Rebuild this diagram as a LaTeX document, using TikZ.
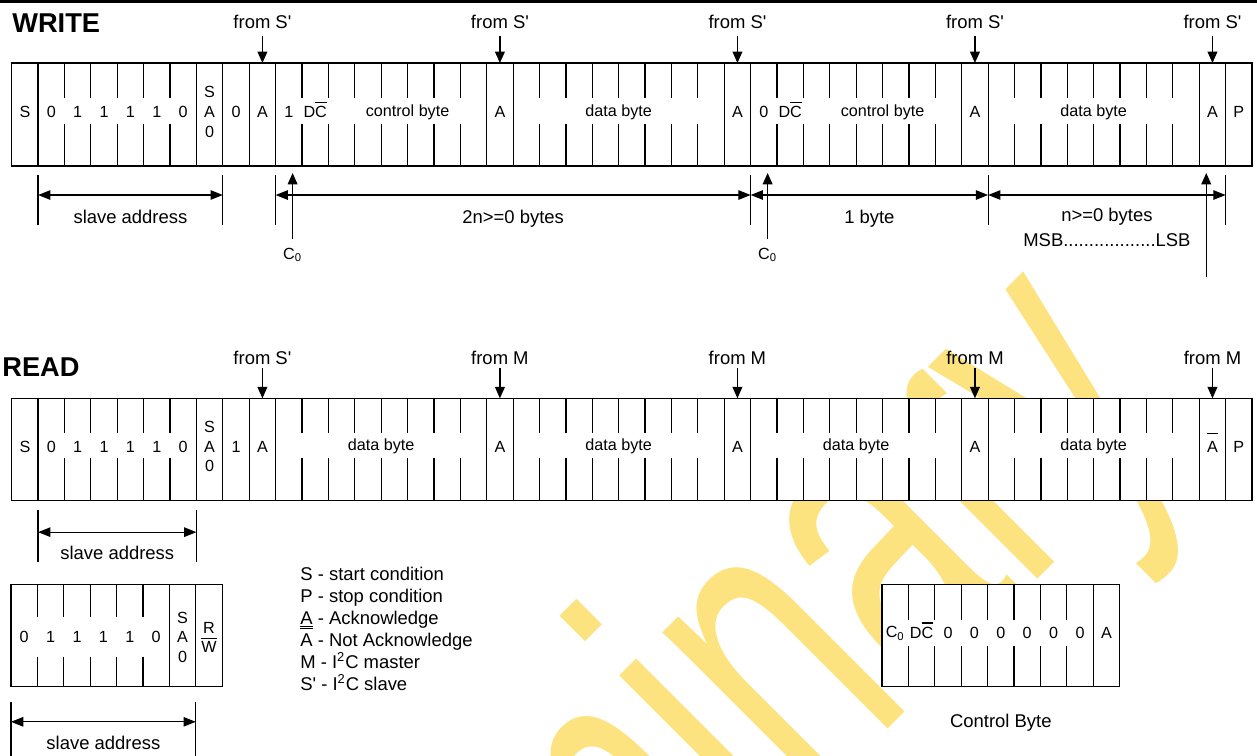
\documentclass[tikz,border=0pt]{standalone}
\usepackage{fontspec}
\setmainfont{Liberation Sans}
\usepackage{tikz}
\usetikzlibrary{arrows.meta, positioning, calc}
\definecolor{MarkYellow}{RGB}{253,226,128}
\newsavebox{\ovlbox}
\newcommand{\ovl}[2][1.8pt]{\sbox{\ovlbox}{#2}\smash{\rlap{\raisebox{\dimexpr\ht\ovlbox+#1\relax}{\rule{\wd\ovlbox}{0.6pt}}}}\usebox{\ovlbox}}
\newcommand{\sq}{\textquotesingle}
\newcommand{\czero}{C\textsubscript{0}}

\begin{document}
\begin{tikzpicture}[x=0.02cm, y=-0.02cm,
        bit/.style={font=\fontsize{9.2}{11.2}\selectfont, inner sep=0pt, align=center},
        lbl/.style={font=\fontsize{10.5}{12}\selectfont, inner sep=0pt},
        heading/.style={font=\fontsize{15.5}{18}\selectfont\bfseries, inner sep=0pt, anchor=west},
        fromw/.style={lbl, inner ysep=3.8pt, anchor=south},
        fromr/.style={lbl, inner ysep=1.9pt, anchor=south},
        czl/.style={bit, inner ysep=5pt},
        frame/.style={draw, line width=0.7pt, fill=white},
        sep/.style={line width=0.7pt},
        arr/.style={-{Triangle[length=6.5pt,width=5.6pt]}, line width=0.7pt},
        dim/.style={{Triangle[length=7pt,width=5.4pt]}-{Triangle[length=7pt,width=5.4pt]}, line width=0.7pt}
    ]
    \def\cw{26.39}
    \useasboundingbox (0,0) rectangle (1257,755);
    \fill[white] (0,0) rectangle (1257,755);
    \fill[black] (0,0) rectangle (1257,3.3);
    \node[anchor=base west, rotate=45, yscale=1.58, inner sep=0pt, text=MarkYellow,
          font=\fontsize{155}{155}\selectfont] (mark) at (221.7,1395) {Preliminary};

    % write frame
    \node[heading] (write) at (12,23) {WRITE};
    \foreach \i in {0,...,47} {
        \coordinate (w\i) at ({11.7+\i*\cw},63);
        \coordinate (wm\i) at ({11.7+(\i+0.5)*\cw},63);
    }
    \draw[frame] (w0) rectangle ($(w47)+(0,103)$);
    \foreach \i in {1,7,8,9,10,18,19,27,28,36,37,45,46}
        \draw[sep] (w\i) -- ++(0,103);
    \foreach \i in {2,...,6}
        \draw[sep] (w\i) -- ++(0,35) ++(0,26) -- ++(0,42);
    \foreach \b in {10,19,28,37}
        \foreach \k in {1,...,7}
            \draw[sep] ($(w\b)+(\k*\cw,0)$) -- ++(0,35) ++(0,26) -- ++(0,42);
    \foreach \i/\t in {0/S,1/0,2/1,3/1,4/1,5/1,6/0,7/{S\\A\\0},8/0,9/A,10/1,11/D\ovl{C},
                       18/A,27/A,28/0,29/D\ovl{C},36/A,45/A,46/P}
        \node[bit] (wb\i) at ($(wm\i)+(0,49)$) {\t};
    \node[bit] (wctl1) at ($(w12)+(3*\cw,49)$) {control byte};
    \node[bit] (wdat1) at ($(w19)+(4*\cw,49)$) {data byte};
    \node[bit] (wctl2) at ($(w30)+(3*\cw,49)$) {control byte};
    \node[bit] (wdat2) at ($(w37)+(4*\cw,49)$) {data byte};
    \foreach \i in {9,18,27,36,45} {
        \node[fromw] (wf\i) at ($(wm\i)+(0,-27.5)$) {from S\sq};
        \draw[arr] (wf\i) -- (wm\i);
    }

    % write spans
    \foreach \i in {1,8,10,28,37,46}
        \draw[sep] ($(w\i)+(0,112)$) -- coordinate[pos=0.4] (wa\i) ++(0,50);
    \draw[dim] (wa1) -- node[lbl, below=8.5pt] (wsa) {slave address} (wa8);
    \draw[dim] (wa10) -- node[lbl, below=8.5pt] (wn2) {2n>=0 bytes} (wa28);
    \draw[dim] (wa28) -- node[lbl, below=8.5pt] (wone) {1 byte} (wa37);
    \draw[dim] (wa37) -- node[lbl, below=7pt] (wn1) {n>=0 bytes} (wa46);
    \node[lbl, below=4.5pt of wn1] (wmsb) {MSB..................LSB};
    \foreach \i in {10,28} {
        \coordinate (wu\i) at ($(w\i)+(17,110)$);
        \node[czl] (wc\i) at ($(w\i)+(17,192)$) {\czero};
        \draw[arr] (wc\i) -- (wu\i);
    }
    \coordinate (wu45) at ($(w45)+(7,110)$);
    \coordinate (wlsb) at ($(w45)+(7,214)$);
    \draw[arr] (wlsb) -- (wu45);

    % read frame
    \node[heading] (read) at (2,367) {READ};
    \foreach \i in {0,...,47} {
        \coordinate (r\i) at ({11.7+\i*\cw},398.3);
        \coordinate (rm\i) at ({11.7+(\i+0.5)*\cw},398.3);
    }
    \draw[frame] (r0) rectangle ($(r47)+(0,102.4)$);
    \foreach \i in {1,7,8,9,10,18,19,27,28,36,37,45,46}
        \draw[sep] (r\i) -- ++(0,102.4);
    \foreach \i in {2,...,6}
        \draw[sep] (r\i) -- ++(0,35) ++(0,25) -- ++(0,42.4);
    \foreach \b in {10,19,28,37}
        \foreach \k in {1,...,7}
            \draw[sep] ($(r\b)+(\k*\cw,0)$) -- ++(0,35) ++(0,25) -- ++(0,42.4);
    \foreach \i/\t in {0/S,1/0,2/1,3/1,4/1,5/1,6/0,7/{S\\A\\0},8/1,9/A,
                       18/A,27/A,36/A,45/\ovl[3.8pt]{A},46/P}
        \node[bit] (rb\i) at ($(rm\i)+(0,48.4)$) {\t};
    \foreach \i in {10,19,28,37}
        \node[bit] (rdat\i) at ($(r\i)+(4*\cw,48.4)$) {data byte};
    \node[fromr] (rf9) at ($(rm9)+(0,-30)$) {from S\sq};
    \draw[arr] (rf9) -- (rm9);
    \foreach \i in {18,27,36,45} {
        \node[fromr] (rf\i) at ($(rm\i)+(0,-30)$) {from M};
        \draw[arr] (rf\i) -- (rm\i);
    }
    \foreach \i in {1,7}
        \draw[sep] ($(r\i)+(0,112)$) -- coordinate[pos=0.42] (ra\i) ++(0,52);
    \draw[dim] (ra1) -- node[lbl, below=7.4pt] (rsa) {slave address} (ra7);

    % address byte
    \foreach \i in {0,...,8} \coordinate (s\i) at ({11+\i*26.4},584.3);
    \draw[frame] (s0) rectangle ($(s8)+(0,102.4)$);
    \foreach \i in {6,7} \draw[sep] (s\i) -- ++(0,102.4);
    \foreach \i in {1,...,5} \draw[sep] (s\i) -- ++(0,32.4) ++(0,40) -- ++(0,30);
    \foreach \i/\t in {0/0,1/1,2/1,3/1,4/1,5/0,6/{S\\A\\0},7/{R\\\ovl[1.2pt]{W}}}
        \node[bit] (sb\i) at ($(s\i)+(13.2,53)$) {\t};
    \foreach \i in {0,7}
        \draw[sep] ($(s\i)+(0,117.7)$) -- coordinate[pos=0.36] (sa\i) ++(0,55);
    \draw[dim] (sa0) -- node[lbl, below=8pt] (ssa) {slave address} (sa7);

    % control byte
    \foreach \i in {0,...,9} \coordinate (k\i) at ({882+\i*26.4},584.3);
    \draw[frame] (k0) rectangle ($(k9)+(0,102.4)$);
    \draw[sep] (k8) -- ++(0,102.4);
    \foreach \i in {1,...,7} \draw[sep] (k\i) -- ++(0,36) ++(0,25.7) -- ++(0,40.7);
    \foreach \i/\t in {0/\czero,1/D\ovl[2.3pt]{C},2/0,3/0,4/0,5/0,6/0,7/0,8/A}
        \node[bit] (kb\i) at ($(k\i)+(13.2,49)$) {\t};
    \node[lbl] (ctl) at ($(k0)+(118.8,138)$) {Control Byte};

    % legend
    \node[lbl, anchor=base west] (leg1) at (300,580) {S - start condition};
    \node[lbl, anchor=base west] (leg2) at ($(leg1.base west)+(0,22.1)$) {P - stop condition};
    \node[lbl, anchor=base west] (leg3) at ($(leg2.base west)+(0,22.1)$) {\underline{A} - Acknowledge};
    \node[lbl, anchor=base west] (leg4) at ($(leg3.base west)+(0,22.1)$) {\ovl[2.4pt]{A} - Not Acknowledge};
    \node[lbl, anchor=base west] (leg5) at ($(leg4.base west)+(0,22.1)$) {M - I\textsuperscript{2}C master};
    \node[lbl, anchor=base west] (leg6) at ($(leg5.base west)+(0,22.1)$) {S\sq{} - I\textsuperscript{2}C slave};
\end{tikzpicture}
\end{document}
